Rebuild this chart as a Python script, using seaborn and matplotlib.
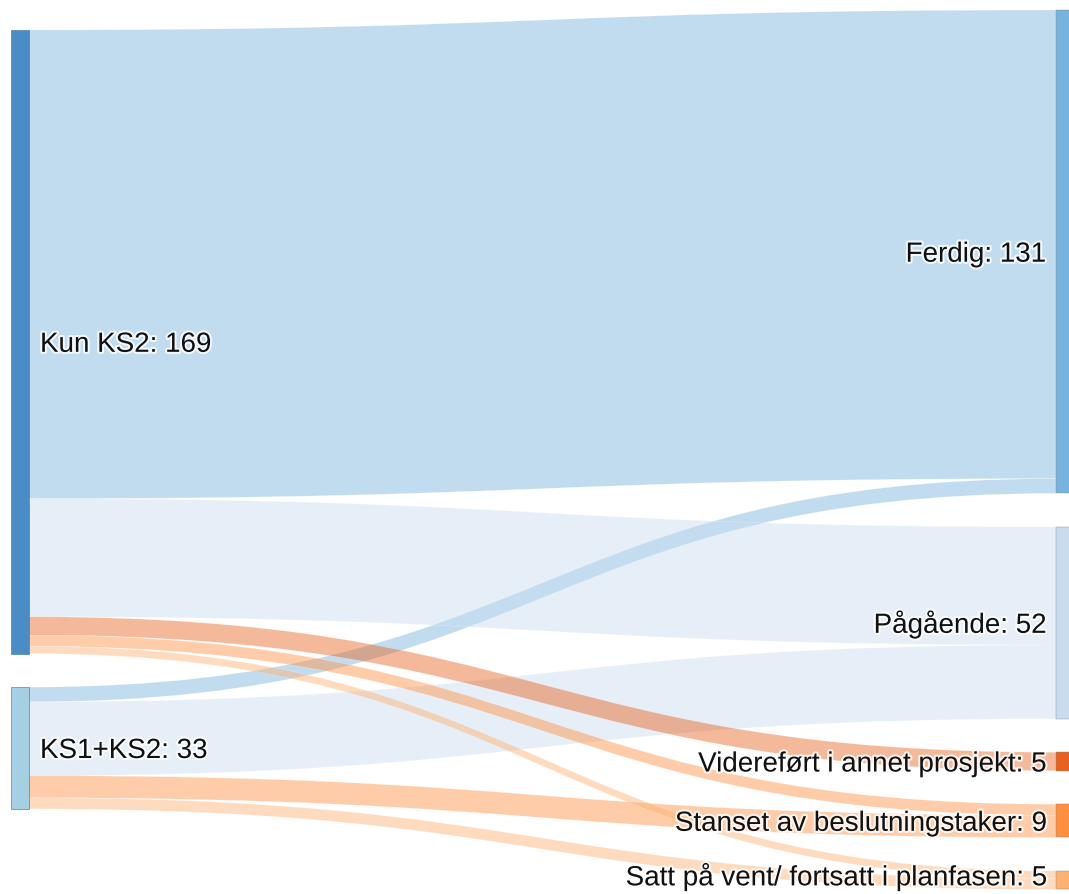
import matplotlib
matplotlib.use("Agg")
from matplotlib import pyplot as plt
from matplotlib.path import Path
from matplotlib.patches import PathPatch, Rectangle
import matplotlib.patheffects as pe
import seaborn as sns

# sources (left column) and targets (right column)
sources = ["Kun KS2", "KS1+KS2"]
targets = ["Ferdig", "Pågående", "Videreført i annet prosjekt",
           "Stanset av beslutningstaker", "Satt på vent/ fortsatt i planfasen"]

# flow values: rows = sources, cols = targets
flows_kun_ks2 = [127, 32, 5, 3, 2]
flows_ks1_ks2 = [4, 20, 0, 6, 3]

source_colors = ["#4a8dc6", "#a5cfe3"]
target_colors = ["#77b3dc", "#c8dcef", "#e8621f", "#fd8f3f", "#fdb070"]

W, H = 1069, 895
scale = 3.69       # px per project
gap = 33.5
node_w = 18
left_x, right_x = 11, 1056
left_top, right_top = 31, 11
link_alpha = 0.45
font_px = 20 * 100 / 72


def plot(savename="out.png"):
    sns.set_theme(style="white")
    plt.rcParams["font.family"] = ["Liberation Sans", "DejaVu Sans"]

    flows = [flows_kun_ks2, flows_ks1_ks2]
    src_tot = [sum(r) for r in flows]
    tgt_tot = [sum(r[j] for r in flows) for j in range(len(targets))]

    fig = plt.figure(figsize=(W / 100, H / 100), dpi=100)
    ax = fig.add_axes([0, 0, 1, 1])
    ax.set_xlim(0, W)
    ax.set_ylim(H, 0)
    ax.axis("off")

    # node positions
    src_y, y = [], left_top
    for v in src_tot:
        src_y.append(y)
        y += v * scale + gap
    tgt_y, y = [], right_top
    for v in tgt_tot:
        tgt_y.append(y)
        y += v * scale + gap

    # links
    src_off = list(src_y)
    tgt_off = list(tgt_y)
    x0, x1 = left_x + node_w, right_x
    xm = (x0 + x1) / 2
    for j in range(len(targets)):
        for i in range(len(sources)):
            v = flows[i][j]
            if v == 0:
                continue
            h = v * scale
            sy0 = src_off[i]
            ty0 = tgt_off[j]
            verts = [(x0, sy0), (xm, sy0), (xm, ty0), (x1, ty0),
                     (x1, ty0 + h),
                     (xm, ty0 + h), (xm, sy0 + h), (x0, sy0 + h),
                     (x0, sy0)]
            codes = [Path.MOVETO, Path.CURVE4, Path.CURVE4, Path.CURVE4,
                     Path.LINETO,
                     Path.CURVE4, Path.CURVE4, Path.CURVE4,
                     Path.CLOSEPOLY]
            ax.add_patch(PathPatch(Path(verts, codes), facecolor=target_colors[j],
                                   alpha=link_alpha, edgecolor="white",
                                   linewidth=0.3, zorder=1))
            src_off[i] += h
            tgt_off[j] += h

    halo = [pe.withStroke(linewidth=3, foreground="white", alpha=0.8)]
    base_shift = 0.36 * font_px

    # source nodes
    for i, name in enumerate(sources):
        h = src_tot[i] * scale
        ax.add_patch(Rectangle((left_x, src_y[i]), node_w, h, facecolor=source_colors[i],
                               edgecolor="#3b6f9c", linewidth=0.4, zorder=2))
        ax.text(left_x + node_w + 11, src_y[i] + h / 2 + base_shift,
                f"{name}: {src_tot[i]}",
                fontsize=20, ha="left", va="baseline", color="#111111",
                path_effects=halo, zorder=3)

    # target nodes
    for j, name in enumerate(targets):
        h = tgt_tot[j] * scale
        ax.add_patch(Rectangle((right_x, tgt_y[j]), node_w, h, facecolor=target_colors[j],
                               edgecolor="#8a8a8a", linewidth=0.3, zorder=2))
        ty = tgt_y[j] + h / 2 + base_shift
        # keep the last label's descenders inside the figure
        ty = min(ty, H - 0.24 * font_px - 2)
        ax.text(right_x - 10, ty,
                f"{name}: {tgt_tot[j]}",
                fontsize=20, ha="right", va="baseline", color="#111111",
                path_effects=halo, zorder=3)

    fig.savefig(savename, dpi=100, facecolor="white")
    plt.close(fig)


if __name__ == "__main__":
    plot()
